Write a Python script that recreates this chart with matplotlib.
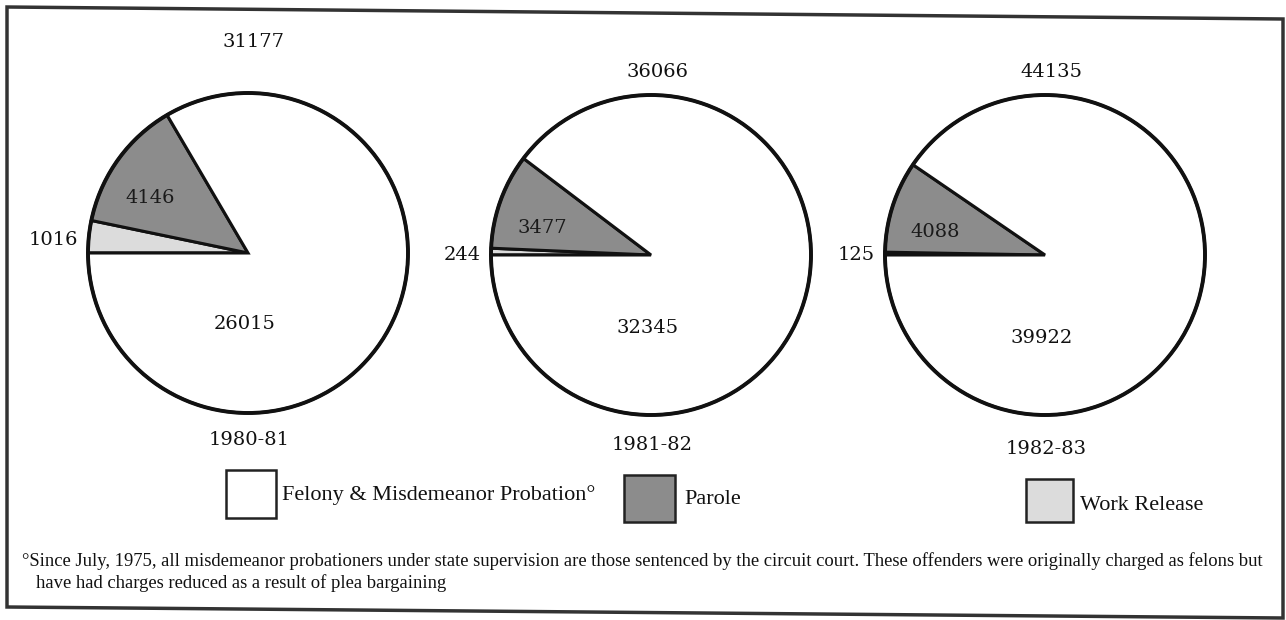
import matplotlib.pyplot as plt
import numpy as np

# data
years = ['1980-81', '1981-82', '1982-83']
work_release = [1016, 244, 125]
parole = [4146, 3477, 4088]
felony = [26015, 32345, 39922]
totals = [31177, 36066, 44135]
legend_labels = ['Felony & Misdemeanor Probation°', 'Parole', 'Work Release']

# layout in pixel units (y measured from the top of the image)
W, H = 1286, 620
centers = [(248, 253), (651, 255), (1045, 255)]
radius = 160
total_y = [42, 72, 72]
year_y = [440, 445, 449]
felony_dy = [71, 73, 83]

colors = ['#dcdcdc', '#8c8c8c', 'white']
serif = ['DejaVu Serif']
text_serif = ['Liberation Serif']

fig = plt.figure(figsize=(W / 100, H / 100), dpi=100)
ax = fig.add_axes([0, 0, 1, 1])


def Y(y):
    return H - y


for i in range(3):
    cx, cy = centers[i]
    vals = [work_release[i], parole[i], felony[i]]
    ax.pie(vals, colors=colors, startangle=180, counterclock=False,
           center=(cx, Y(cy)), radius=radius,
           wedgeprops=dict(edgecolor='#111111', linewidth=2.2))
    # outer ring
    ax.add_patch(plt.Circle((cx, Y(cy)), radius, fill=False,
                            edgecolor='#111111', linewidth=2.8, zorder=5))

    # parole label inside its wedge
    frac0 = vals[0] / sum(vals)
    frac1 = vals[1] / sum(vals)
    mid = np.deg2rad(180 - 360 * (frac0 + frac1 / 2) + 6)
    ax.text(cx + 0.7 * radius * np.cos(mid), Y(cy) + 0.7 * radius * np.sin(mid),
            str(parole[i]), ha='center', va='center', fontsize=14,
            family=serif, color='#1a1a1a', zorder=6)

    # work release label outside left
    ax.text(cx - radius - 10, Y(cy) + (13 if i == 0 else 0), str(work_release[i]),
            ha='right', va='center', fontsize=14, family=serif, color='#111111')

    # felony label
    ax.text(cx - 3, Y(cy + felony_dy[i]), str(felony[i]), ha='center', va='center',
            fontsize=14, family=serif, color='#111111')

    # total above
    ax.text(cx + 6, Y(total_y[i]), str(totals[i]), ha='center', va='center',
            fontsize=14, family=serif, color='#111111')

    # year below
    ax.text(cx + 1, Y(year_y[i]), years[i], ha='center', va='center',
            fontsize=14, family=serif, color='#111111')

# legend boxes
legend_boxes = [(226, 470, 50, 48), (624, 475, 51, 47), (1026, 479, 47, 43)]
legend_text_x = [282, 684, 1080]
legend_text_y = [495, 500, 506]
legend_colors = ['white', '#8c8c8c', '#dcdcdc']
for (bx, by, bw, bh), tx, ty, c, lab in zip(legend_boxes, legend_text_x, legend_text_y,
                                           legend_colors, legend_labels):
    ax.add_patch(plt.Rectangle((bx, Y(by + bh)), bw, bh, facecolor=c,
                               edgecolor='#222222', linewidth=1.8))
    ax.text(tx, Y(ty), lab, ha='left', va='center', fontsize=16,
            family=text_serif, color='#111111')

# footnote
note1 = ('°Since July, 1975, all misdemeanor probationers under state supervision are those '
         'sentenced by the circuit court. These offenders were originally charged as felons but')
note2 = 'have had charges reduced as a result of plea bargaining'
ax.text(22, Y(561), note1, ha='left', va='center', fontsize=13.4,
        family=text_serif, color='#111111')
ax.text(36, Y(583), note2, ha='left', va='center', fontsize=13.4,
        family=text_serif, color='#111111')

# frame
frame = plt.Polygon([(7, Y(7)), (1283, Y(19)), (1283, Y(618)), (7, Y(607))],
                    closed=True, fill=False, edgecolor='#333333', linewidth=2.5)
ax.add_patch(frame)

ax.set_xlim(0, W)
ax.set_ylim(0, H)
ax.set_aspect('auto')
ax.axis('off')

plt.savefig('out.png', dpi=100)
